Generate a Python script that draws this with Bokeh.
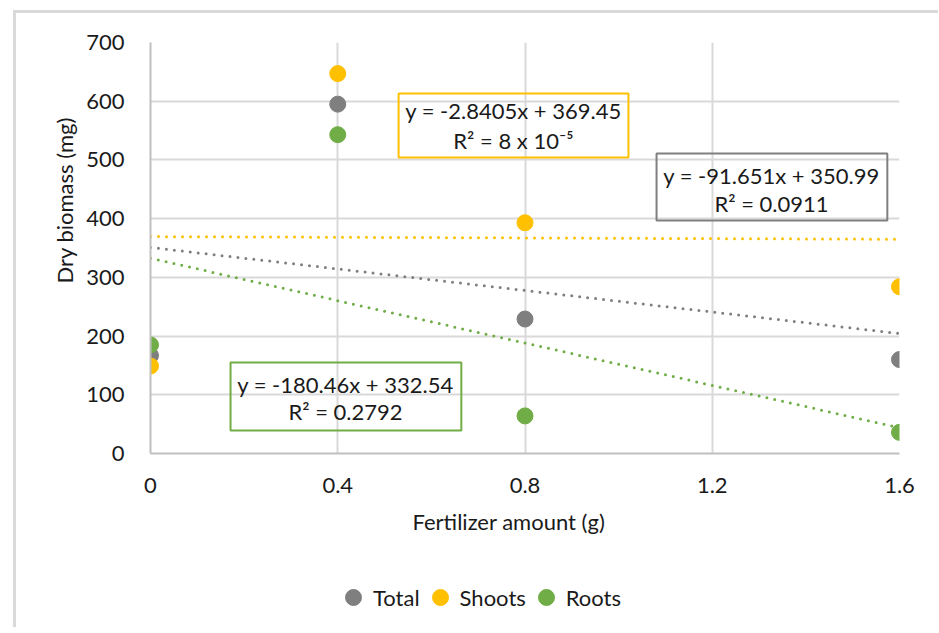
from bokeh.plotting import figure
from bokeh.layouts import column
from bokeh.models import (FixedTicker, Legend, LegendItem, ColumnDataSource, Title)
from bokeh.core.properties import value
from bokeh.embed import file_html
from bokeh.resources import INLINE
import numpy as np

# ---- data ----
fertilizer = [0, 0.4, 0.8, 1.6]
total = [167, 595, 229, 160]
shoots = [149, 647, 393, 284]
roots = [185, 543, 64, 36]

series_names = ["Total", "Shoots", "Roots"]
series_colors = ["#7f7f7f", "#ffc000", "#70ad47"]

# trendline coefficients (slope, intercept) and R^2 text
slopes = [-91.651, -2.8405, -180.46]
intercepts = [350.99, 369.45, 332.54]
eq_texts = ["y = -91.651x + 350.99", "y = -2.8405x + 369.45", "y = -180.46x + 332.54"]
r2_texts = ["R² = 0.0911", "R² = 8 x 10⁻⁵", "R² = 0.2792"]

x_ticks = [0, 0.4, 0.8, 1.2, 1.6]
x_tick_labels = ["0", "0.4", "0.8", "1.2", "1.6"]
y_ticks = [0, 100, 200, 300, 400, 500, 600, 700]
x_title = "Fertilizer amount (g)"
y_title = "Dry biomass (mg)"

FONT = "Lato"
TXT = "#1a1a1a"
FS = "22px"
BORDER = "3px solid #d9d9d9"

p = figure(width=925, height=557, x_range=(0, 1.6), y_range=(0, 700),
           output_backend="svg", toolbar_location=None,
           min_border_left=134, min_border_right=42, min_border_top=29, min_border_bottom=117)
p.margin = (10, 0, 0, 13)
p.styles = {"border-left": BORDER, "border-top": BORDER}
p.outline_line_color = None
p.background_fill_color = "white"
p.border_fill_color = "white"

# axes
p.xaxis.ticker = FixedTicker(ticks=x_ticks)
p.xaxis.major_label_overrides = {t: l for t, l in zip(x_ticks, x_tick_labels)}
p.yaxis.ticker = FixedTicker(ticks=y_ticks)
for ax in (p.xaxis[0], p.yaxis[0]):
    ax.major_tick_line_color = None
    ax.minor_tick_line_color = None
    ax.axis_line_color = "#bfbfbf"
    ax.axis_line_width = 2
    ax.major_label_text_font = FONT
    ax.major_label_text_font_size = FS
    ax.major_label_text_color = TXT
p.yaxis.major_label_standoff = 20
p.xaxis.major_label_standoff = 18

# axis titles (placed off-centre like the original)
p.add_layout(Title(text=y_title, align="left", offset=170, standoff=12,
                   text_font=FONT, text_font_size=FS, text_font_style="normal",
                   text_color=TXT), "left")
p.add_layout(Title(text=x_title, align="left", offset=262, standoff=21,
                   text_font=FONT, text_font_size=FS, text_font_style="normal",
                   text_color=TXT), "below")

p.xgrid.grid_line_color = "#d9d9d9"
p.ygrid.grid_line_color = "#d9d9d9"
p.xgrid.grid_line_width = 2
p.ygrid.grid_line_width = 2

# trendlines
xs_line = np.array([0, 1.6])
for s, b, c in zip(slopes, intercepts, series_colors):
    p.line(xs_line, s * xs_line + b, line_color=c, line_width=3,
           line_dash="0 8", line_cap="round")

# points
for vals, c in zip([total, shoots, roots], series_colors):
    src = ColumnDataSource(dict(x=fertilizer, y=vals))
    p.scatter("x", "y", source=src, size=16, fill_color=c, line_color=c)

# equation boxes (Total, Shoots, Roots)
box_l = [1.081, 0.530, 0.171]
box_r = [1.574, 1.021, 0.664]
box_t = [511, 613, 155]
box_b = [397, 504, 39]
txt_x = [1.3266, 0.7754, 0.4166]
txt_y1 = [473.5, 584.2, 117.5]
txt_y2 = [425.8, 533.1, 71.5]
for i in range(3):
    p.quad(left=[box_l[i]], right=[box_r[i]], top=[box_t[i]], bottom=[box_b[i]],
           fill_color=None, line_color=series_colors[i], line_width=2)
    p.text(x=[txt_x[i], txt_x[i]], y=[txt_y1[i], txt_y2[i]],
           text=[eq_texts[i], r2_texts[i]],
           text_font=value(FONT), text_font_size=FS, text_color=TXT,
           text_align="center", text_baseline="middle")

# legend strip below the chart (swatch renderers sit outside the visible range)
lg = figure(width=925, height=60, x_range=(0, 1), y_range=(0, 1),
            output_backend="svg", toolbar_location=None,
            x_axis_location=None, y_axis_location=None,
            min_border_left=0, min_border_right=0, min_border_top=0, min_border_bottom=0)
lg.margin = (0, 0, 0, 13)
lg.styles = {"border-left": BORDER}
lg.outline_line_color = None
lg.xgrid.visible = False
lg.ygrid.visible = False
leg_renderers = [lg.scatter(x=[-5], y=[-5], size=16, fill_color=c, line_color=c)
                 for c in series_colors]
legend = Legend(items=[LegendItem(label=n, renderers=[r]) for n, r in zip(series_names, leg_renderers)],
                orientation="horizontal", location=(183, 10),
                border_line_color=None, background_fill_alpha=0,
                label_text_font=FONT, label_text_font_size=FS, label_text_color=TXT,
                glyph_width=40, glyph_height=40, label_standoff=-9, spacing=-8,
                padding=0, margin=0, label_height=40)
lg.add_layout(legend, "center")

layout = column(p, lg, spacing=0)
open("out.html", "w").write(file_html(layout, INLINE))
